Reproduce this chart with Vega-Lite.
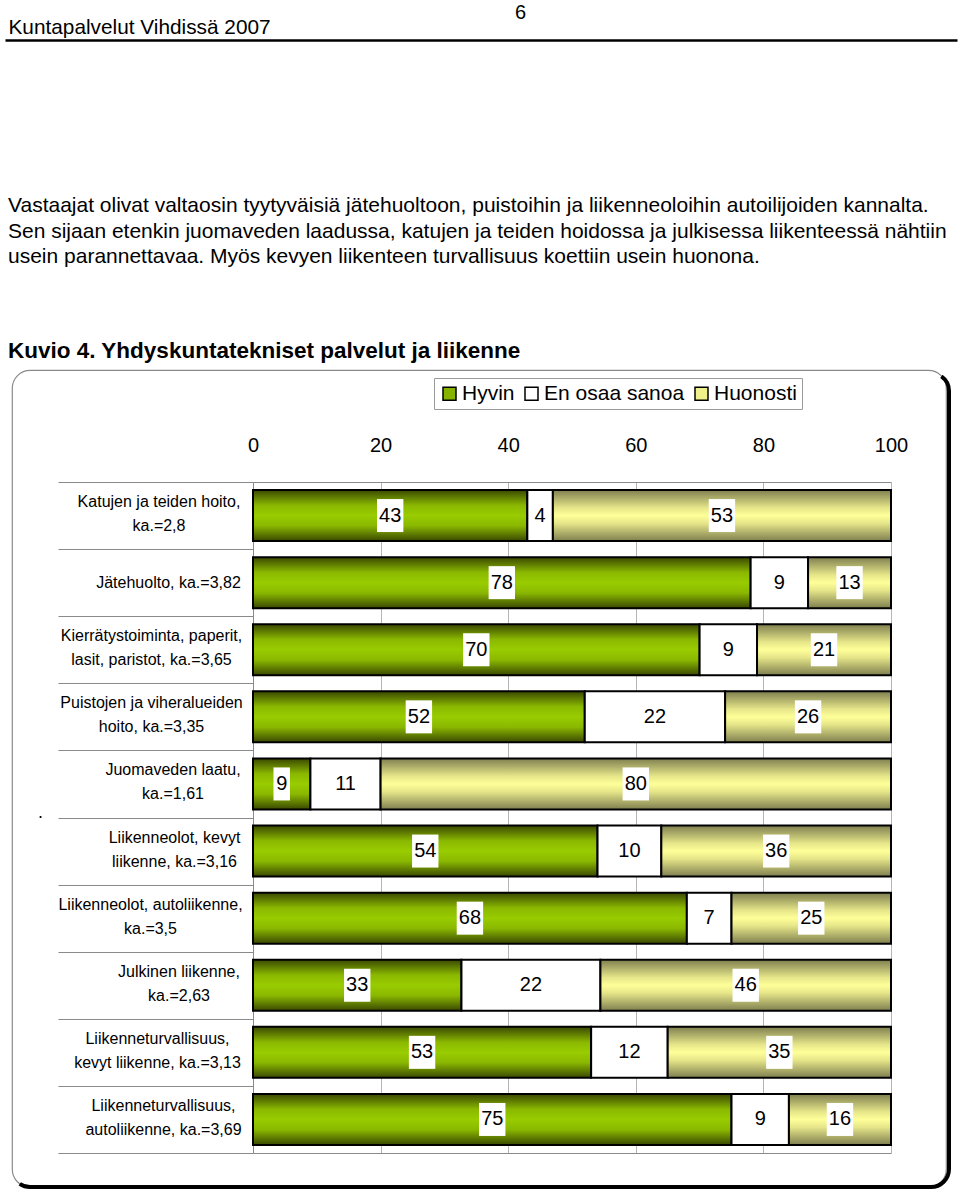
{
  "$schema": "https://vega.github.io/schema/vega-lite/v6.json",
  "width": 934,
  "height": 817,
  "autosize": {"type": "none"},
  "padding": {"left": 12, "top": 370, "right": 14, "bottom": 10},
  "background": "white",
  "config": {
    "view": {"stroke": "#8a8a8a", "strokeWidth": 1.2, "cornerRadius": 18, "fill": "white"},
    "font": "Liberation Sans, Arial, sans-serif"
  },
  "title": {
    "text": [
      "Vastaajat olivat valtaosin tyytyväisiä jätehuoltoon, puistoihin ja liikenneoloihin autoilijoiden kannalta.",
      "Sen sijaan etenkin juomaveden laadussa, katujen ja teiden hoidossa ja julkisessa liikenteessä nähtiin",
      "usein parannettavaa. Myös kevyen liikenteen turvallisuus koettiin usein huonona."
    ],
    "subtitle": "Kuvio 4. Yhdyskuntatekniset palvelut ja liikenne",
    "anchor": "start",
    "frame": "group",
    "orient": "top",
    "font": "Liberation Sans",
    "fontSize": 21,
    "fontWeight": "normal",
    "color": "black",
    "lineHeight": 25.6,
    "subtitleFont": "Liberation Sans",
    "subtitleFontSize": 22.5,
    "subtitleFontWeight": "bold",
    "subtitleColor": "black",
    "subtitlePadding": 72,
    "dx": -4,
    "dy": 360,
    "offset": 0,
    "limit": 1000
  },
  "data": {
    "values": [
      {"kohde": "Katujen ja teiden hoito,\nka.=2,8", "vastaus": "Hyvin", "osuus": 43},
      {"kohde": "Katujen ja teiden hoito,\nka.=2,8", "vastaus": "En osaa sanoa", "osuus": 4},
      {"kohde": "Katujen ja teiden hoito,\nka.=2,8", "vastaus": "Huonosti", "osuus": 53},
      {"kohde": "Jätehuolto, ka.=3,82", "vastaus": "Hyvin", "osuus": 78},
      {"kohde": "Jätehuolto, ka.=3,82", "vastaus": "En osaa sanoa", "osuus": 9},
      {"kohde": "Jätehuolto, ka.=3,82", "vastaus": "Huonosti", "osuus": 13},
      {"kohde": "Kierrätystoiminta, paperit,\nlasit, paristot, ka.=3,65", "vastaus": "Hyvin", "osuus": 70},
      {"kohde": "Kierrätystoiminta, paperit,\nlasit, paristot, ka.=3,65", "vastaus": "En osaa sanoa", "osuus": 9},
      {"kohde": "Kierrätystoiminta, paperit,\nlasit, paristot, ka.=3,65", "vastaus": "Huonosti", "osuus": 21},
      {"kohde": "Puistojen ja viheralueiden\nhoito, ka.=3,35", "vastaus": "Hyvin", "osuus": 52},
      {"kohde": "Puistojen ja viheralueiden\nhoito, ka.=3,35", "vastaus": "En osaa sanoa", "osuus": 22},
      {"kohde": "Puistojen ja viheralueiden\nhoito, ka.=3,35", "vastaus": "Huonosti", "osuus": 26},
      {"kohde": "Juomaveden laatu,\nka.=1,61", "vastaus": "Hyvin", "osuus": 9},
      {"kohde": "Juomaveden laatu,\nka.=1,61", "vastaus": "En osaa sanoa", "osuus": 11},
      {"kohde": "Juomaveden laatu,\nka.=1,61", "vastaus": "Huonosti", "osuus": 80},
      {"kohde": "Liikenneolot, kevyt\nliikenne, ka.=3,16", "vastaus": "Hyvin", "osuus": 54},
      {"kohde": "Liikenneolot, kevyt\nliikenne, ka.=3,16", "vastaus": "En osaa sanoa", "osuus": 10},
      {"kohde": "Liikenneolot, kevyt\nliikenne, ka.=3,16", "vastaus": "Huonosti", "osuus": 36},
      {"kohde": "Liikenneolot, autoliikenne,\nka.=3,5", "vastaus": "Hyvin", "osuus": 68},
      {"kohde": "Liikenneolot, autoliikenne,\nka.=3,5", "vastaus": "En osaa sanoa", "osuus": 7},
      {"kohde": "Liikenneolot, autoliikenne,\nka.=3,5", "vastaus": "Huonosti", "osuus": 25},
      {"kohde": "Julkinen liikenne,\nka.=2,63", "vastaus": "Hyvin", "osuus": 33},
      {"kohde": "Julkinen liikenne,\nka.=2,63", "vastaus": "En osaa sanoa", "osuus": 22},
      {"kohde": "Julkinen liikenne,\nka.=2,63", "vastaus": "Huonosti", "osuus": 46},
      {"kohde": "Liikenneturvallisuus,\nkevyt liikenne, ka.=3,13", "vastaus": "Hyvin", "osuus": 53},
      {"kohde": "Liikenneturvallisuus,\nkevyt liikenne, ka.=3,13", "vastaus": "En osaa sanoa", "osuus": 12},
      {"kohde": "Liikenneturvallisuus,\nkevyt liikenne, ka.=3,13", "vastaus": "Huonosti", "osuus": 35},
      {"kohde": "Liikenneturvallisuus,\nautoliikenne, ka.=3,69", "vastaus": "Hyvin", "osuus": 75},
      {"kohde": "Liikenneturvallisuus,\nautoliikenne, ka.=3,69", "vastaus": "En osaa sanoa", "osuus": 9},
      {"kohde": "Liikenneturvallisuus,\nautoliikenne, ka.=3,69", "vastaus": "Huonosti", "osuus": 16}
    ]
  },
  "transform": [
    {"calculate": "indexof(['Hyvin','En osaa sanoa','Huonosti'], datum.vastaus)", "as": "jarjestys"},
    {"stack": "osuus", "groupby": ["kohde"], "sort": [{"field": "jarjestys", "order": "ascending"}], "offset": "normalize", "as": ["x0", "x1"]},
    {"calculate": "(datum.x0 + datum.x1) / 2", "as": "xmid"}
  ],
  "resolve": {"scale": {"x": "independent"}, "axis": {"x": "independent"}},
  "layer": [
    {
      "data": {"values": [{}]},
      "mark": {"type": "rect", "filled": false, "stroke": "black", "strokeWidth": 4, "cornerRadius": 18, "xOffset": 3, "yOffset": 3, "strokeDash": [0, 912, 1735, 824]},
      "encoding": {}
    },
    {
      "data": {"values": [{}]},
      "mark": {"type": "point", "opacity": 0},
      "encoding": {
        "x": {
          "datum": 0.5, "type": "quantitative",
          "scale": {"domain": [0, 1], "range": [-7, 945]},
          "axis": {
            "orient": "top", "offset": 330, "domainColor": "black", "domainWidth": 2.5, "labels": false, "ticks": false, "grid": false,
            "title": "Kuntapalvelut Vihdissä 2007",
            "titleX": -4, "titleY": -7, "titleAlign": "left", "titleBaseline": "alphabetic",
            "titleFont": "Liberation Sans", "titleFontSize": 20.8, "titleFontWeight": "normal", "titleColor": "black"
          }
        }
      }
    },
    {
      "mark": {"type": "bar", "stroke": "black", "strokeWidth": 2, "height": {"band": 0.76}},
      "encoding": {
        "y": {
          "field": "kohde", "type": "nominal", "sort": null,
          "scale": {"range": [112, 783], "paddingInner": 0, "paddingOuter": 0},
          "axis": {
            "orient": "left", "offset": -241,
            "title": "6", "titleAngle": 0, "titleX": 267, "titleY": -352, "titleAlign": "center", "titleBaseline": "alphabetic",
            "titleFont": "Liberation Sans", "titleFontSize": 20, "titleFontWeight": "normal", "titleColor": "black",
            "domainColor": "#8a8a8a", "domainWidth": 1,
            "tickBand": "extent", "tickSize": 195, "tickColor": "#8a8a8a", "tickWidth": 1,
            "labelExpr": "split(datum.label, '\\n')",
            "labelFont": "Liberation Sans, Arial",
            "labelFontSize": 16, "labelColor": "black", "labelLineHeight": 24,
            "labelAlign": "center", "labelBaseline": "middle", "labelLimit": 400,
            "labelOffset": {"expr": "indexof(datum.label, '\\n') >= 0 ? -14 : 0"},
            "labelPadding": {"expr": "[-100.5,-110,-93,-93,-114.5,-116,-92,-120.5,-99,-105][indexof(domain('y'), datum.value)]"}
          }
        },
        "x": {
          "field": "x0", "type": "quantitative",
          "scale": {"domain": [0, 1], "range": [241, 879]},
          "axis": {
            "orient": "top", "offset": -112,
            "values": [0, 0.2, 0.4, 0.6, 0.8, 1],
            "labelExpr": "format(datum.value * 100, 'd')",
            "grid": true, "gridColor": "#b5b5b5", "gridWidth": 1,
            "ticks": false, "domainColor": "#8a8a8a", "domainWidth": 1,
            "labelFont": "Liberation Sans", "labelFontSize": 20, "labelColor": "black", "labelPadding": 27,
            "labelFlush": false, "labelOverlap": false,
            "title": ".",
            "titleX": 28, "titleY": 335, "titleAlign": "center", "titleBaseline": "alphabetic",
            "titleFont": "Liberation Sans", "titleFontSize": 18, "titleFontWeight": "normal", "titleColor": "black"
          }
        },
        "x2": {"field": "x1"},
        "fill": {
          "condition": [
            {"test": "datum.vastaus == 'Hyvin'", "value": {"gradient": "linear", "x1": 0, "y1": 0, "x2": 0, "y2": 1, "stops": [{"offset": 0, "color": "#3a4800"}, {"offset": 0.3, "color": "#8ab800"}, {"offset": 0.5, "color": "#99cc00"}, {"offset": 0.7, "color": "#8ab800"}, {"offset": 1, "color": "#3a4800"}]}},
            {"test": "datum.vastaus == 'Huonosti'", "value": {"gradient": "linear", "x1": 0, "y1": 0, "x2": 0, "y2": 1, "stops": [{"offset": 0, "color": "#7f7f50"}, {"offset": 0.35, "color": "#e6e68a"}, {"offset": 0.5, "color": "#ffff99"}, {"offset": 0.65, "color": "#e6e68a"}, {"offset": 1, "color": "#7f7f50"}]}}
          ],
          "value": "#ffffff"
        }
      }
    },
    {
      "mark": {"type": "point", "filled": true, "fill": "white", "opacity": 1, "strokeWidth": 0, "size": 1089},
      "encoding": {
        "x": {"field": "xmid", "type": "quantitative", "scale": {"domain": [0, 1], "range": [241, 879]}, "axis": null},
        "y": {"field": "kohde", "type": "nominal", "sort": null},
        "shape": {"condition": {"test": "datum.osuus < 10", "value": "M-0.5,-1L0.5,-1L0.5,1L-0.5,1Z"}, "value": "M-0.8,-1L0.8,-1L0.8,1L-0.8,1Z"}
      }
    },
    {
      "mark": {"type": "text", "font": "Liberation Sans", "fontSize": 20, "color": "black", "baseline": "middle", "align": "center"},
      "encoding": {
        "x": {"field": "xmid", "type": "quantitative", "scale": {"domain": [0, 1], "range": [241, 879]}, "axis": {"orient": "bottom", "offset": -34, "labels": false, "ticks": false, "grid": false, "domainColor": "#8a8a8a", "title": null}},
        "y": {"field": "kohde", "type": "nominal", "sort": null},
        "text": {"field": "osuus", "type": "quantitative"}
      }
    },
    {
      "mark": {"type": "square", "opacity": 0},
      "encoding": {
        "color": {
          "field": "vastaus", "type": "nominal",
          "scale": {"domain": ["Hyvin", "En osaa sanoa", "Huonosti"], "range": ["#86b300", "#ffffff", "#f0f08a"]},
          "legend": {
            "orient": "none", "legendX": 422, "legendY": 8, "direction": "horizontal", "title": null,
            "symbolType": "square", "symbolSize": 169, "symbolStrokeColor": "black", "symbolStrokeWidth": 1.5, "symbolOpacity": 1,
            "labelFont": "Liberation Sans", "labelFontSize": 21, "labelColor": "black", "labelOffset": 2, "columnPadding": 6,
            "padding": 5, "strokeColor": "#9a9a9a", "fillColor": "white"
          }
        }
      }
    }
  ]
}
